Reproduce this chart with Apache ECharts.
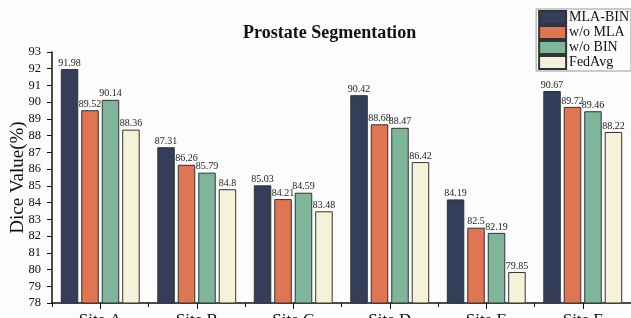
<!DOCTYPE html>
<html>
<head>
<meta charset="utf-8">
<script src="https://cdn.jsdelivr.net/npm/echarts@6/dist/echarts.min.js"></script>
<style>
  html, body { margin: 0; padding: 0; background: #fcfcfc; }
  #chart { width: 631px; height: 318px; }
</style>
</head>
<body>
<div id="chart"></div>
<script>
var sites = ["Site A", "Site B", "Site C", "Site D", "Site E", "Site F"];
var mlaBin = [91.98, 87.31, 85.03, 90.42, 84.19, 90.67];
var woMla = [89.52, 86.26, 84.21, 88.68, 82.5, 89.72];
var woBin = [90.14, 85.79, 84.59, 88.47, 82.19, 89.46];
var fedAvg = [88.36, 84.8, 83.48, 86.42, 79.85, 88.22];

var font = "'Liberation Serif', 'Times New Roman', serif";
var myChart = echarts.init(document.getElementById("chart"));

function bar(name, data, color) {
  return {
    name: name,
    type: "bar",
    data: data,
    barWidth: 17.5,
    barGap: "17%",
    itemStyle: { color: color, borderColor: "#333", borderWidth: 1 },
    label: {
      show: true,
      position: "top",
      distance: 1,
      color: "#222",
      fontFamily: font,
      fontSize: 10
    }
  };
}

myChart.setOption({
  backgroundColor: "#fcfcfc",
  animation: false,
  title: {
    text: "Prostate Segmentation",
    left: 238,
    top: 19,
    textStyle: { fontFamily: font, fontSize: 18, fontWeight: "bold", color: "#111" }
  },
  legend: {
    right: 0,
    top: 9,
    orient: "vertical",
    icon: "rect",
    itemWidth: 27,
    itemHeight: 13,
    itemGap: 0,
    padding: [1, 2, 1, 2],
    borderColor: "#999",
    borderWidth: 1,
    textStyle: { fontFamily: font, fontSize: 14, color: "#111", padding: [0, 0, 0, -2] },
    data: ["MLA-BIN", "w/o MLA", "w/o BIN", "FedAvg"]
  },
  grid: { left: 52, right: 0, top: 52, bottom: 15, containLabel: false, outerBoundsMode: "none" },
  xAxis: [
    {
      type: "category",
      data: sites,
      axisLine: { lineStyle: { color: "#111", width: 1.5 } },
      axisTick: { show: true, length: 4, lineStyle: { color: "#111" } },
      axisLabel: { fontFamily: font, fontSize: 17, color: "#111", margin: 9 }
    },
    {
      type: "category",
      data: sites,
      position: "bottom",
      axisLine: { show: false },
      axisTick: { show: true, alignWithLabel: true, length: 6, lineStyle: { color: "#111" } },
      axisLabel: { show: false }
    }
  ],
  yAxis: {
    type: "value",
    min: 78,
    max: 93,
    interval: 1,
    name: "Dice Value(%)",
    nameLocation: "middle",
    nameGap: 24,
    nameMoveOverlap: false,
    nameTextStyle: { fontFamily: font, fontSize: 19, color: "#111" },
    splitLine: { show: false },
    axisLine: { show: true, lineStyle: { color: "#111", width: 1.5 } },
    axisTick: { show: true, length: 5, lineStyle: { color: "#111" } },
    axisLabel: { fontFamily: font, fontSize: 12.5, color: "#111", margin: 11 }
  },
  series: [
    bar("MLA-BIN", mlaBin, "#353e58"),
    bar("w/o MLA", woMla, "#e07553"),
    bar("w/o BIN", woBin, "#7fb59b"),
    bar("FedAvg", fedAvg, "#f4f3da")
  ]
});
</script>
</body>
</html>
